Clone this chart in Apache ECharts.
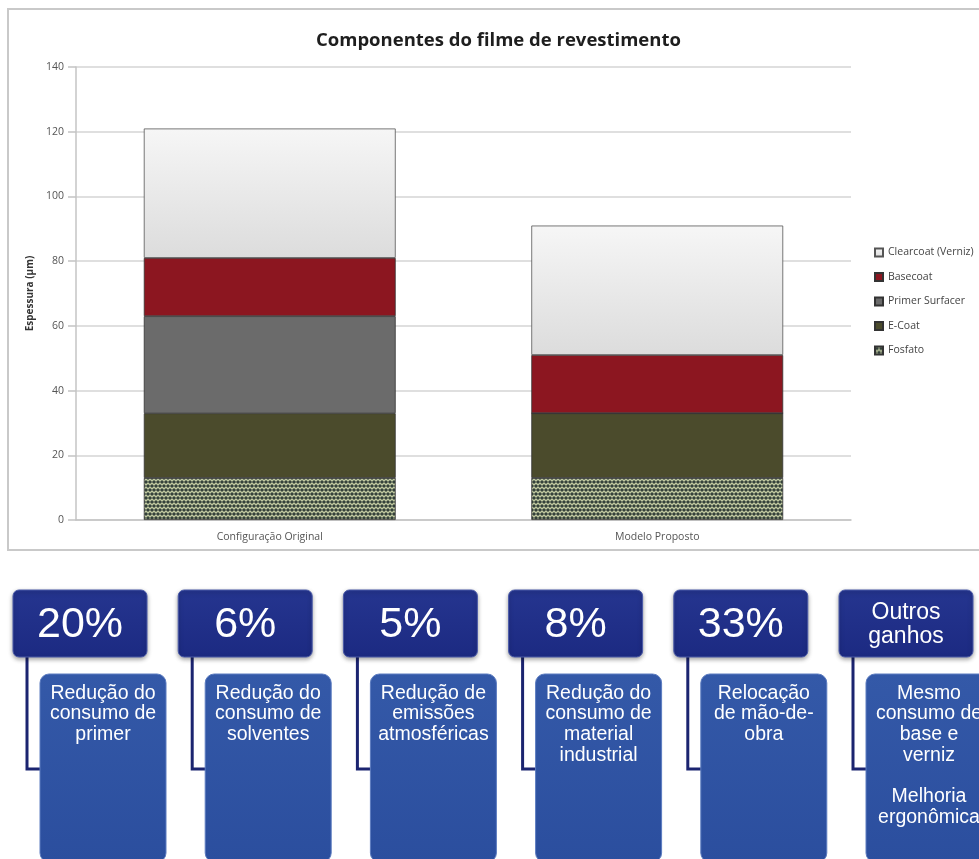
<!DOCTYPE html>
<html>
<head>
<meta charset="utf-8">
<script src="https://cdn.jsdelivr.net/npm/echarts@6/dist/echarts.min.js"></script>
<style>
  html, body { margin: 0; padding: 0; background: #fff; }
  #myChart { width: 979px; height: 859px; }
</style>
</head>
<body>
<div id="myChart"></div>
<script>
// dados do gráfico
var categories = ['Configuração Original', 'Modelo Proposto'];
var fosfato = [13, 13];
var eCoat = [20, 20];
var primerSurfacer = [30, 0];
var basecoat = [18, 18];
var clearcoat = [40, 40];
var legendOrder = ['Clearcoat (Verniz)', 'Basecoat', 'Primer Surfacer', 'E-Coat', 'Fosfato'];

// caixas de ganhos
var headlines = ['20%', '6%', '5%', '8%', '33%', 'Outros\nganhos'];
var descriptions = [
  'Redução do\nconsumo de\nprimer',
  'Redução do\nconsumo de\nsolventes',
  'Redução de\nemissões\natmosféricas',
  'Redução do\nconsumo de\nmaterial\nindustrial',
  'Relocação\nde mão-de-\nobra',
  'Mesmo\nconsumo de\nbase e\nverniz\n\nMelhoria\nergonômica'
];

// textura pontilhada do fosfato
function dotPattern() {
  var c = document.createElement('canvas');
  c.width = 8; c.height = 8;
  var ctx = c.getContext('2d');
  ctx.fillStyle = '#d6deb0';
  ctx.fillRect(0, 0, 8, 8);
  ctx.fillStyle = '#33413a';
  [[2, 2], [6, 2], [0, 6], [4, 6], [8, 6]].forEach(function (p) {
    ctx.beginPath();
    ctx.arc(p[0], p[1], 1.8, 0, Math.PI * 2);
    ctx.fill();
  });
  return c;
}

var fontChart = '"Open Sans", Lato, sans-serif';
var fontBox = '"Liberation Sans", Arial, sans-serif';

function barSeries(name, data, color, border) {
  return {
    name: name,
    type: 'bar',
    stack: 'filme',
    barWidth: '65%',
    data: data,
    itemStyle: { color: color, borderColor: border || '#333', borderWidth: 0.8 }
  };
}

// elementos gráficos do rodapé
var graphics = [
  {
    type: 'rect',
    shape: { x: 8, y: 9, width: 1000, height: 541 },
    style: { fill: null, stroke: '#c9c9c9', lineWidth: 2 },
    z: -1
  }
];
for (var i = 0; i < headlines.length; i++) {
  var x0 = 13 + i * 165.2;
  graphics.push({
    type: 'polyline',
    shape: { points: [[x0 + 14, 650], [x0 + 14, 769], [x0 + 30, 769]] },
    style: { stroke: '#1b2470', lineWidth: 3, fill: null }
  });
  graphics.push({
    type: 'rect',
    shape: { x: x0 + 27, y: 674, width: 126, height: 188, r: 9 },
    style: {
      fill: { type: 'linear', x: 0, y: 0, x2: 0, y2: 1,
        colorStops: [{ offset: 0, color: '#3459a8' }, { offset: 1, color: '#2b4e9e' }] },
      stroke: '#5c7cc0', lineWidth: 1
    }
  });
  graphics.push({
    type: 'rect',
    shape: { x: x0, y: 590, width: 134, height: 67, r: 6 },
    style: {
      fill: { type: 'linear', x: 0, y: 0, x2: 0, y2: 1,
        colorStops: [{ offset: 0, color: '#25358f' }, { offset: 1, color: '#1c2a82' }] },
      stroke: '#4a5aa8', lineWidth: 1,
      shadowBlur: 4, shadowColor: 'rgba(0,0,0,0.35)', shadowOffsetY: 2
    }
  });
  var isLong = headlines[i].indexOf('\n') >= 0;
  graphics.push({
    type: 'text',
    style: {
      text: headlines[i], x: x0 + 67, y: 625,
      fill: '#fff', fontFamily: fontBox,
      fontSize: isLong ? 23 : 43, lineHeight: isLong ? 24 : 46,
      align: 'center', verticalAlign: 'middle',
      textAlign: 'center', textVerticalAlign: 'middle'
    }
  });
  graphics.push({
    type: 'text',
    style: {
      text: descriptions[i], x: x0 + 90, y: 683,
      fill: '#fff', fontFamily: fontBox, fontSize: 19.5, lineHeight: 20.7,
      align: 'center', verticalAlign: 'top',
      textAlign: 'center', textVerticalAlign: 'top'
    }
  });
}

var myChart = echarts.init(document.getElementById('myChart'), null, { renderer: 'canvas' });
var option = {
  backgroundColor: '#fff',
  animation: false,
  title: {
    text: 'Componentes do filme de revestimento',
    left: 311,
    top: 26,
    textStyle: { fontFamily: fontChart, fontSize: 18.5, fontWeight: 'bold', color: '#1e1e1e' }
  },
  legend: {
    data: legendOrder,
    orient: 'vertical',
    left: 874,
    top: 247,
    padding: 0,
    itemWidth: 8,
    itemHeight: 8,
    itemGap: 13.5,
    icon: 'rect',
    textStyle: { fontFamily: fontChart, fontSize: 10.5, color: '#444' }
  },
  grid: {
    left: 76,
    right: 128,
    top: 67,
    bottom: 339,
    containLabel: false,
    outerBoundsMode: 'none'
  },
  xAxis: {
    type: 'category',
    data: categories,
    axisLine: { lineStyle: { color: '#c4c4c4', width: 1.5 } },
    axisTick: { show: false },
    axisLabel: { fontFamily: fontChart, fontSize: 10.5, color: '#555', margin: 12 }
  },
  yAxis: {
    type: 'value',
    min: 0,
    max: 140,
    interval: 20,
    name: 'Espessura (µm)',
    nameLocation: 'middle',
    nameGap: 30,
    nameTextStyle: { fontFamily: fontChart, fontSize: 10, fontWeight: 'bold', color: '#333' },
    axisLine: { show: true, lineStyle: { color: '#c4c4c4', width: 1.5 } },
    axisTick: { show: true, length: 8, lineStyle: { color: '#c4c4c4', width: 1.5 } },
    axisLabel: { fontFamily: fontChart, fontSize: 10.5, color: '#555', margin: 12 },
    splitLine: { lineStyle: { color: '#d4d4d4', width: 1.5 } }
  },
  series: [
    barSeries('Fosfato', fosfato, { image: dotPattern(), repeat: 'repeat' }),
    barSeries('E-Coat', eCoat, '#4b4b2c'),
    barSeries('Primer Surfacer', primerSurfacer, '#6b6b6b'),
    barSeries('Basecoat', basecoat, '#8c1620'),
    barSeries('Clearcoat (Verniz)', clearcoat, {
      type: 'linear', x: 0, y: 0, x2: 0, y2: 1,
      colorStops: [{ offset: 0, color: '#f6f6f6' }, { offset: 1, color: '#dcdcdc' }]
    }, '#555')
  ],
  graphic: graphics
};
option && myChart.setOption(option);
</script>
</body>
</html>
